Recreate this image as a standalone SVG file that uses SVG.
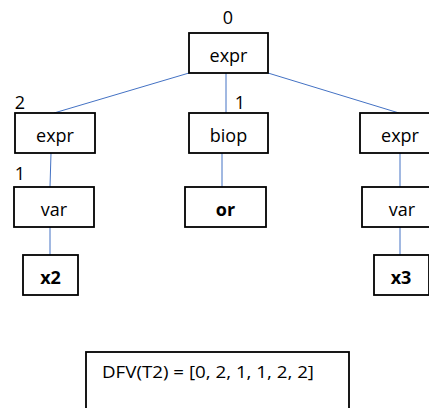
<svg xmlns="http://www.w3.org/2000/svg" width="429" height="408" viewBox="0 0 429 408">
<style>
rect.n{fill:#fff;stroke:#000;stroke-width:1.8}
text{font-family:"Open Sans","Liberation Sans",sans-serif;font-size:18px;fill:#000;text-anchor:middle}
text.b{font-weight:bold}
text.l{font-size:18px}
text.d{font-size:17px}
#connectors line{stroke:#4472C4;stroke-width:1}
</style>
<rect width="429" height="408" fill="#fff"/>
<g id="connectors">
<line x1="189" y1="73" x2="54" y2="113"/>
<line x1="226" y1="73" x2="226" y2="113"/>
<line x1="268" y1="73" x2="399" y2="113"/>
<line x1="51" y1="153" x2="50" y2="187"/>
<line x1="50" y1="227" x2="50" y2="255"/>
<line x1="222" y1="153" x2="222" y2="187"/>
<line x1="400" y1="153" x2="400" y2="187"/>
<line x1="400" y1="227" x2="400" y2="255"/>
</g>
<g id="n0"><rect class="n" x="189" y="33" width="79" height="40"/><text x="228.5" y="62">expr</text></g>
<g id="n1"><rect class="n" x="15" y="113" width="80" height="40"/><text x="55" y="142">expr</text></g>
<g id="n2"><rect class="n" x="189" y="113" width="79" height="40"/><text x="228.5" y="142">biop</text></g>
<g id="n3"><rect class="n" x="360" y="113" width="80" height="40"/><text x="400" y="142">expr</text></g>
<g id="n4"><rect class="n" x="14" y="187" width="80" height="40"/><text x="54" y="216">var</text></g>
<g id="n5"><rect class="n" x="185" y="187" width="81" height="40"/><text class="b" x="225.5" y="216">or</text></g>
<g id="n6"><rect class="n" x="362" y="187" width="80" height="40"/><text x="402" y="216">var</text></g>
<g id="n7"><rect class="n" x="23" y="255" width="55" height="40"/><text class="b" x="50.5" y="284">x2</text></g>
<g id="n8"><rect class="n" x="374" y="255" width="55" height="40"/><text class="b" x="401" y="284">x3</text></g>
<g id="labels">
<text class="l" x="228" y="24">0</text>
<text class="l" x="20" y="109">2</text>
<text class="l" x="240" y="109">1</text>
<text class="l" x="20" y="180">1</text>
</g>
<g id="dfv"><rect class="n" x="86" y="352" width="263" height="70"/><text class="d" x="208" y="378" textLength="212" lengthAdjust="spacingAndGlyphs">DFV(T2) = [0, 2, 1, 1, 2, 2]</text></g>
</svg>
